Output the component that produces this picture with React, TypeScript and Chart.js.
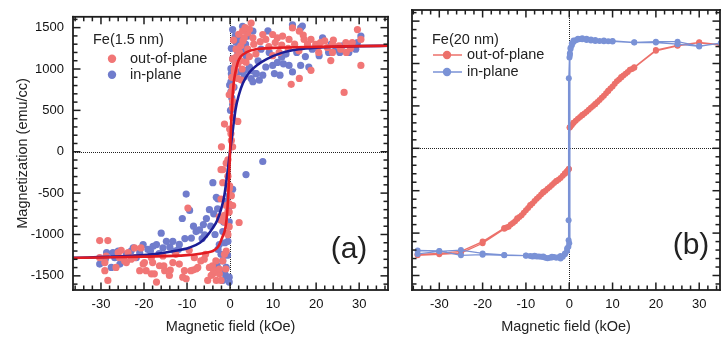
import React, { useEffect, useRef } from "react";
import { Chart, registerables } from "chart.js";

Chart.register(...registerables);

const FONT = "'Liberation Sans', Arial, Helvetica, sans-serif";

// ---- axes ----
const xTickValues = [-30, -20, -10, 0, 10, 20, 30];
const xTickLabels = ["-30", "-20", "-10", "0", "10", "20", "30"];
const yTickValues = [-1500, -1000, -500, 0, 500, 1000, 1500];
const yTickLabels = ["-1500", "-1000", "-500", "0", "500", "1000", "1500"];
const xTitle = "Magnetic field (kOe)";
const yTitle = "Magnetization (emu/cc)";
const xRangeA = [-36.5, 36.7];
const xRangeB = [-36.3, 34.8];
const yRange = [-1671, 1631];

// ---- panel (a): Fe(1.5 nm) ----
const outOfPlaneA = [
  [-30.3,-1074],[-28.4,-1074],[-30.3,-1280],[-29.1,-1339],[-29.1,-1437],[-28.4,-1555],[-28.8,-1260],[-26.5,-1398],[-26,-1220],[-25.7,-1280],
  [-25.3,-1192],[-24.5,-1319],[-24.1,-1339],[-23.7,-1220],[-23,-1299],[-22.2,-1280],[-22.2,-1162],[-21,-1437],[-20.7,-1162],[-20.2,-1358],
  [-19.9,-1339],[-19.5,-1437],[-18.3,-1280],[-18.3,-1476],[-18,-1339],[-17.6,-1476],[-17.1,-1575],[-16.4,-1378],[-15.6,-1260],[-15.4,-1378],
  [-15.2,-1437],[-14.1,-1496],[-13.9,-1429],[-13.3,-1339],[-12.6,-1240],[-11.8,-1358],[-11,-1516],[-10.6,-1437],[-10.2,-1535],[-9.8,-681],
  [-9.5,-1192],[-9.1,-1437],[-8.6,-1429],[-8.3,-1280],[-7.9,-1417],[-7.5,-1398],[-6.8,-1319],[-6,-1299],[-5.7,-1240],[-5.2,-1555],
  [-4.8,-1398],[-4.4,-1496],[-4.1,-1378],[-4,-1476],[-3.7,-1437],[-3.3,-1319],[-3.2,-1555],[-2.5,-1476],[-2.5,-1417],[-2.1,-1555],
  [-1.7,-1319],[-1.3,-1240],[-1,-1417],[-0.9,-1201],[-0.6,-984],[-0.5,-1004],[-0.2,-906],[-2.5,-788],[-2.1,-827],[-1.3,-847],
  [-1.3,-768],[-0.9,-650],[-0.5,-728],[-0.2,-729],[-0.2,-630],[0.6,-650],[-2.1,-571],[0.3,-531],[-0.2,-453],[-0.1,-413],
  [-1.7,-374],[-0.5,-295],[-2.1,-217],[-1.7,-217],[-0.9,-138],[-0.5,-98],[2.1,-855],
  [-2.0,59],[0.6,59],[0.3,137],[0.2,217],[-0.1,275],[-1.3,335],[1.8,366],[0.6,413],[0.6,531],[0.6,609],
  [-0.2,689],[0.3,727],[0.6,787],[1.8,885],[2.6,866],[0.4,900],[1,965],[1.0,1003],[2.8,1000],[1.2,1050],
  [1.8,1063],[3.7,1083],[2.5,1100],[0.6,1122],[1.5,1150],[4.5,1150],[6,1181],[2.2,1201],[1.4,1240],[4.1,1240],
  [2.5,1280],[3,1340],[0.8,1350],[3.3,1378],[2,1420],[4.1,1437],[2.9,1457],[4.5,1480],[3.5,1500],[4.9,1555],
  [5.3,1378],[5.5,1300],[7,1330],[7.6,1417],[8.3,1358],[9,1270],[9.9,1417],[9.9,1161],[10.5,1320],[11,1378],
  [11.4,1201],[12,1290],[12.2,1398],[13.5,1250],[13.7,1358],[14.2,815],[14.5,1496],[15,1300],[16,1220],[16.1,1457],
  [16.1,886],[17,1410],[17.2,1358],[18,1300],[18.8,1358],[18.8,984],[19.9,1299],[20.6,1201],[20.6,1280],[21,1320],
  [22,1339],[22.6,1260],[23.4,1102],[23.8,1299],[23.8,1201],[24,1350],[25.3,1280],[25.7,1240],[26.5,717],[26.9,1319],
  [27,1200],[28,1250],[28.4,1319],[29.6,1476],[30.4,1358],[30.4,1043],
];

const inPlaneA = [
  [-30.3,-1358],[-29,-1300],[-28.7,-1220],[-27.6,-1398],[-27.2,-1220],[-26.8,-1280],[-26,-1201],[-25.6,-1358],[-24.1,-1240],[-23,-1200],
  [-22.5,-1161],[-21.8,-1280],[-21,-1220],[-20.2,-1122],[-19.1,-1181],[-18.5,-1200],[-17.9,-1142],[-17.1,-1122],[-16.5,-1230],[-16,-984],
  [-15.6,-1161],[-14.8,-1083],[-14,-1150],[-13.3,-1083],[-12.9,-1201],[-12,-1180],[-11.8,-1120],[-11.1,-807],[-10.5,-1050],[-10.2,-512],
  [-9.4,-709],[-9,-1043],[-8.5,-900],[-7.9,-965],[-7.1,-945],[-6.5,-1050],[-6.2,-880],[-5.9,-1004],[-5.5,-807],[-4.8,-700],
  [-4.5,-900],[-4,-374],[-3.8,-750],[-3.5,-1000],[-3.2,-551],[-3,-1380],[-2.9,-689],[-2.8,-1180],[-2.8,-571],[-2.5,-1122],
  [-2.1,-807],[-2.1,-1240],[-1.7,-965],[-1.7,-1319],[-1.7,-1555],[-1.5,-850],[-1.3,-1457],[-1.2,-1100],[-1,-1500],[-0.9,-1398],
  [-0.8,-600],[-0.6,-1250],[-0.5,-1083],[-0.4,-700],[-0.2,-846],[-0.2,-531],[-0.2,-1516],[-0.2,-1575],[0.2,-650],[0.6,-453],
  [3.7,-276],[7.6,-118],
  [0.1,500],[0.6,571],[0.4,650],[0.2,728],[0.9,780],[-0.1,806],[0.2,846],[0.3,944],[1,925],[0.2,1004],
  [2.2,965],[3.3,906],[3.4,983],[4.9,885],[4.8,980],[4.5,1024],[5.3,846],[6.1,944],[6.8,865],[6,945],
  [1.6,1080],[0.6,1122],[1.8,1201],[3.8,1150],[2.9,1240],[0.3,1250],[1.4,1319],[3.6,1300],[2.4,1350],[1.2,1400],
  [4.1,1398],[0.6,1476],[2.9,1516],[5.3,1457],[6.5,1100],[7.2,1240],[7.6,925],[8.3,1024],[8.8,1460],[9.1,1201],
  [9.9,1043],[10.3,945],[11,1080],[11.6,925],[12,1142],[12.4,1063],[13,1180],[13.7,1043],[14.5,965],[14.5,1535],
  [15.5,1200],[16.4,1043],[16.4,1496],[16.8,1520],[17.5,1150],[18.3,1024],[19.1,1240],[20,1260],[20.7,1161],[21.5,1378],
  [22.9,1201],[23.5,1300],[24.6,1240],[25.5,1200],[26.1,1280],[27,1300],[27.6,1201],[28.5,1280],[29.2,1240],[29.6,1319],
  [30.4,1398],
];

const fitOutA = [
  [-37,-1284],[-30,-1278],[-20,-1268],[-10,-1250],[-7,-1232],[-5,-1214],[-4,-1200],[-3,-1162],[-2.5,-1122],[-2,-1060],
  [-1.5,-995],[-1.2,-950],[-0.8,-810],[-0.5,-600],[-0.3,-400],[0,0],[0.3,400],[0.5,600],[0.8,810],[1.2,950],
  [1.8,1080],[2.5,1150],[3.75,1200],[6,1238],[10,1255],[20,1268],[30,1276],[37,1281],
];

const fitInA = [
  [-37,-1282],[-25,-1265],[-18,-1240],[-13,-1200],[-9.5,-1160],[-7,-1100],[-5.5,-1025],[-4,-920],[-3,-830],[-2,-680],
  [-1.3,-520],[-0.7,-290],[0,0],[0.7,290],[1.3,520],[2,680],[3,830],[4.5,960],[6.5,1055],[8.5,1120],
  [12,1195],[16,1238],[20,1258],[25,1270],[30,1276],[37,1281],
];

// ---- panel (b): Fe(20 nm) ----
const outOfPlaneB = [
  [35,1215],[30,1245],[25,1208],[20,1150],[15,950],[14.5,935],[14,925],[13.5,900],[13,880],[12.5,860],
  [12,835],[11.5,810],[11,790],[10.5,760],[10,730],[9.5,705],[9,675],[8.5,650],[8,620],[7.5,595],
  [7,570],[6.5,545],[6,520],[5.5,500],[5,478],[4.5,455],[4,432],[3.5,410],[3,390],[2.5,370],
  [2,350],[1.5,325],[1,300],[0.6,275],[0.3,260],[0.1,245],
  [-0.1,-245],[-0.3,-260],[-0.6,-275],[-1,-300],[-1.5,-325],[-2,-350],[-2.5,-370],[-3,-390],[-3.5,-410],[-4,-432],
  [-4.5,-455],[-5,-478],[-5.5,-500],[-6,-520],[-6.5,-545],[-7,-570],[-7.5,-595],[-8,-620],[-8.5,-650],[-9,-675],
  [-9.5,-705],[-10,-730],[-10.5,-760],[-11,-790],[-11.5,-810],[-12,-835],[-12.5,-860],[-13,-880],[-13.5,-900],[-14,-925],
  [-14.5,-935],[-15,-950],[-20,-1120],[-25,-1235],[-30,-1250],[-35,-1262],
  [-35,-1250],[-30,-1238],[-25,-1215],[-20,-1100],[-15,-940],[-12,-825],[-9,-668],[-6,-515],[-3,-385],[-1,-295],
  [-0.1,-245],[0.1,245],[1,300],[3,392],[6,522],[9,680],[12,840],[15,955],[20,1158],[25,1215],
  [30,1250],[35,1222],
];

const inPlaneB = [
  [35,1240],[30,1205],[25,1258],[20,1258],[15,1248],[10,1260],[9,1262],[8,1262],[7,1264],[6,1266],
  [5,1270],[4,1276],[3,1285],[2.5,1288],[2,1284],[1.5,1275],[1,1255],[0.6,1215],[0.3,1170],[0.15,1120],
  [0.05,1070],[-0.1,826],[-0.15,-847],[-0.15,-1083],[-0.5,-1181],[-1,-1250],[-1.5,-1280],[-2,-1300],[-2.5,-1285],[-3,-1292],
  [-3.5,-1282],[-4,-1288],[-4.5,-1292],[-5,-1296],[-5.5,-1290],[-6,-1282],[-6.5,-1280],[-7,-1276],[-7.5,-1276],[-8,-1272],
  [-8.5,-1276],[-9,-1270],[-10,-1266],[-15,-1262],[-20,-1255],[-25,-1262],[-30,-1210],[-35,-1205],
  [-35,-1245],[-30,-1215],[-25,-1200],[-20,-1240],[-15,-1258],[-10,-1265],[-8,-1268],[-6,-1275],[-4,-1280],[-2,-1270],
  [-1,-1240],[-0.5,-1210],[-0.2,-1160],[0,-1120],[0.15,1100],[0.3,1185],[0.6,1240],[1,1270],[2,1292],[3,1298],
  [4,1292],[5,1282],[6,1276],[8,1272],[10,1266],[15,1250],[20,1248],[25,1228],[30,1202],[35,1242],
];

const RED_PT = "rgb(241,118,118)";
const BLUE_PT = "rgb(112,124,204)";
const RED_FIT = "rgb(226,28,34)";
const BLUE_FIT = "rgb(28,30,150)";
const RED_B = "rgb(236,112,106)";
const BLUE_B = "rgb(122,146,214)";

const pts = (arr: number[][]) => arr.map(([x, y]) => ({ x, y }));

type LegendItem = { label: string; color: string; line: boolean };
type Decor = {
  xr: number[];
  legendTitle: string;
  items: LegendItem[];
  legendDx: number;
  titleDy: number;
  rowDy: number[];
  markerDx: number;
  textDx: number;
  panelLabel: string;
  labelDx: number;
  labelY: number;
};

function makeDecor(d: Decor) {
  return {
    id: "decor" + d.panelLabel.replace(/[()]/g, ""),
    beforeDatasetsDraw(chart: any) {
      const ctx = chart.ctx;
      const ca = chart.chartArea;
      const x = chart.scales.x, y = chart.scales.y;
      ctx.save();
      ctx.fillStyle = "#222";
      const y0 = Math.round(y.getPixelForValue(0));
      for (let px = Math.round(ca.left); px < ca.right; px += 2) ctx.fillRect(px, y0, 1, 1);
      const x0 = Math.round(x.getPixelForValue(0));
      for (let py = Math.round(ca.top); py < ca.bottom; py += 2) ctx.fillRect(x0, py, 1, 1);
      ctx.restore();
    },
    afterDraw(chart: any) {
      const ctx = chart.ctx;
      const ca = chart.chartArea;
      const x = chart.scales.x, y = chart.scales.y;
      const L = ca.left, R = ca.right, T = ca.top, B = ca.bottom;
      const FW = 1.8; // frame width
      const TW = 1.5; // tick width
      ctx.save();
      ctx.fillStyle = "#1e1e1e";
      // frame
      ctx.fillRect(L - FW / 2, T - FW / 2, R - L + FW, FW);
      ctx.fillRect(L - FW / 2, B - FW / 2, R - L + FW, FW);
      ctx.fillRect(L - FW / 2, T - FW / 2, FW, B - T + FW);
      ctx.fillRect(R - FW / 2, T - FW / 2, FW, B - T + FW);
      // x ticks (major every 10, minor every 2)
      const xStart = Math.ceil(d.xr[0] / 2) * 2;
      for (let v = xStart; v <= d.xr[1]; v += 2) {
        const px = x.getPixelForValue(v);
        const len = Math.abs(v) % 10 === 0 ? 7.5 : 4.5;
        ctx.fillRect(px - TW / 2, B - len, TW, len);
        ctx.fillRect(px - TW / 2, T, TW, len);
      }
      // y ticks (major every 500, minor every 100)
      const yStart = Math.ceil(yRange[0] / 100) * 100;
      for (let v = yStart; v <= yRange[1]; v += 100) {
        const py = y.getPixelForValue(v);
        const len = Math.abs(v) % 500 === 0 ? 7.5 : 4.5;
        ctx.fillRect(L, py - TW / 2, len, TW);
        ctx.fillRect(R - len, py - TW / 2, len, TW);
      }

      // legend
      ctx.fillStyle = "#222";
      ctx.font = `14.5px ${FONT}`;
      ctx.textBaseline = "middle";
      ctx.textAlign = "left";
      ctx.fillText(d.legendTitle, ca.left + d.legendDx, ca.top + d.titleDy);
      d.items.forEach((it, i) => {
        const cy = ca.top + d.rowDy[i];
        const mx = ca.left + d.markerDx;
        if (it.line) {
          ctx.strokeStyle = it.color;
          ctx.lineWidth = 1.5;
          ctx.beginPath(); ctx.moveTo(mx - 14, cy); ctx.lineTo(mx + 15, cy); ctx.stroke();
        }
        ctx.fillStyle = it.color;
        ctx.beginPath(); ctx.arc(mx, cy, 4.2, 0, Math.PI * 2); ctx.fill();
        ctx.fillStyle = "#222";
        ctx.fillText(it.label, ca.left + d.textDx, cy);
      });

      // panel label
      ctx.fillStyle = "#222";
      ctx.font = `30px ${FONT}`;
      ctx.textAlign = "center";
      ctx.fillText(d.panelLabel, ca.right - d.labelDx, d.labelY);
      ctx.restore();
    },
  };
}

function makeScales(xr: number[], yAxisWidth: number, showY: boolean) {
  return {
    x: {
      type: "linear",
      min: xr[0],
      max: xr[1],
      afterBuildTicks: (s: any) => { s.ticks = xTickValues.map((v) => ({ value: v })); },
      afterFit: (s: any) => { s.height = 48; },
      grid: { display: false, drawTicks: false },
      border: { display: false },
      ticks: {
        autoSkip: false,
        maxRotation: 0,
        padding: 7,
        color: "#111",
        font: { family: FONT, size: 13 },
        callback: (_v: any, i: number) => xTickLabels[i],
      },
      title: {
        display: true,
        text: xTitle,
        color: "#222",
        font: { family: FONT, size: 14.5 },
        padding: { top: 0, bottom: 2 },
      },
    },
    y: {
      type: "linear",
      min: yRange[0],
      max: yRange[1],
      afterBuildTicks: (s: any) => { s.ticks = yTickValues.map((v) => ({ value: v })); },
      afterFit: (s: any) => { s.width = yAxisWidth; },
      grid: { display: false, drawTicks: false },
      border: { display: false },
      ticks: {
        display: showY,
        padding: 9,
        color: "#111",
        font: { family: FONT, size: 13 },
        callback: (_v: any, i: number) => yTickLabels[i],
      },
      title: {
        display: showY,
        text: yTitle,
        color: "#222",
        font: { family: FONT, size: 14.5 },
        padding: { top: 14.5, bottom: 0 },
      },
    },
  };
}

const baseOptions = {
  responsive: false,
  animation: false,
  devicePixelRatio: 1,
  events: [],
  plugins: { legend: { display: false }, tooltip: { enabled: false } },
};

export default function App() {
  const refA = useRef<HTMLCanvasElement>(null);
  const refB = useRef<HTMLCanvasElement>(null);

  useEffect(() => {
    const chartA = new Chart(refA.current as HTMLCanvasElement, {
      type: "scatter",
      data: {
        datasets: [
          { label: "fit out-of-plane", data: pts(fitOutA), showLine: true, borderColor: RED_FIT, borderWidth: 2.6, pointRadius: 0, cubicInterpolationMode: "monotone" },
          { label: "fit in-plane", data: pts(fitInA), showLine: true, borderColor: BLUE_FIT, borderWidth: 2.6, pointRadius: 0, cubicInterpolationMode: "monotone" },
          { label: "out-of-plane", data: pts(outOfPlaneA), pointRadius: 3.6, pointBorderWidth: 0, pointBackgroundColor: RED_PT, backgroundColor: RED_PT },
          { label: "in-plane", data: pts(inPlaneA), pointRadius: 3.6, pointBorderWidth: 0, pointBackgroundColor: BLUE_PT, backgroundColor: BLUE_PT },
        ],
      } as any,
      options: {
        ...baseOptions,
        layout: { padding: { left: 0, right: 3, top: 10, bottom: 0 } },
        scales: makeScales(xRangeA, 73, true),
      } as any,
      plugins: [
        makeDecor({
          xr: xRangeA,
          legendTitle: "Fe(1.5 nm)",
          items: [
            { label: "out-of-plane", color: RED_PT, line: false },
            { label: "in-plane", color: BLUE_PT, line: false },
          ],
          legendDx: 20,
          titleDy: 23,
          rowDy: [42, 58],
          markerDx: 39,
          textDx: 57,
          panelLabel: "(a)",
          labelDx: 39,
          labelY: 250,
        }),
      ],
    });

    const chartB = new Chart(refB.current as HTMLCanvasElement, {
      type: "scatter",
      data: {
        datasets: [
          { label: "in-plane", data: pts(inPlaneB), showLine: true, borderColor: BLUE_B, borderWidth: 1.3, pointRadius: 3, pointBorderWidth: 0, pointBackgroundColor: BLUE_B, tension: 0 },
          { label: "out-of-plane", data: pts(outOfPlaneB), showLine: true, borderColor: RED_B, borderWidth: 1.3, pointRadius: 3, pointBorderWidth: 0, pointBackgroundColor: RED_B, tension: 0 },
        ],
      } as any,
      options: {
        ...baseOptions,
        layout: { padding: { left: 0, right: 1, top: 10, bottom: 0 } },
        scales: makeScales(xRangeB, 20, false),
      } as any,
      plugins: [
        makeDecor({
          xr: xRangeB,
          legendTitle: "Fe(20 nm)",
          items: [
            { label: "out-of-plane", color: RED_B, line: true },
            { label: "in-plane", color: BLUE_B, line: true },
          ],
          legendDx: 20,
          titleDy: 30,
          rowDy: [45, 62],
          markerDx: 35,
          textDx: 55,
          panelLabel: "(b)",
          labelDx: 29,
          labelY: 246,
        }),
      ],
    });

    return () => {
      chartA.destroy();
      chartB.destroy();
    };
  }, []);

  return (
    <div style={{ position: "absolute", left: 0, top: 0, width: 724, height: 338, background: "#fff", overflow: "hidden" }}>
      <canvas ref={refA} width={392} height={338} style={{ position: "absolute", left: 0, top: 0, width: 392, height: 338 }} />
      <canvas ref={refB} width={332} height={338} style={{ position: "absolute", left: 392, top: 0, width: 332, height: 338 }} />
    </div>
  );
}
